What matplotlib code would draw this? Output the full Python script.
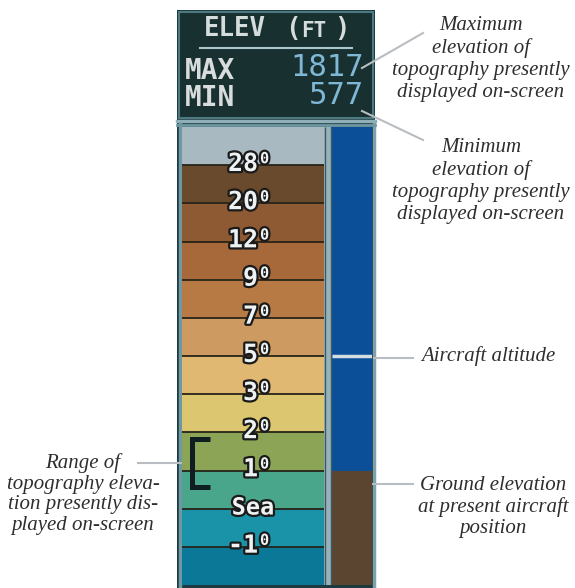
import matplotlib
matplotlib.use("Agg")
import matplotlib.pyplot as plt
import matplotlib.patheffects as pe
from matplotlib.patches import Rectangle
import numpy as np

# ---------------- data ----------------
band_colors_top_to_bottom = ["#a9b9c1", "#6a4a2d", "#8e5a33", "#a8693a", "#b77a45",
                             "#cd9b62", "#e0b872", "#dcc66f", "#8ba456", "#4aa68b",
                             "#1a92a8", "#0c7898"]
tick_main = ["28", "20", "12", "9", "7", "5", "3", "2", "1", "Sea", "-1"]
tick_sup = ["0", "0", "0", "0", "0", "0", "0", "0", "0", "", "0"]
tick_values = [28000, 20000, 12000, 9000, 7000, 5000, 3000, 2000, 1000, 0, -1000]
max_elev = 1817
min_elev = 577
aircraft_alt = 5000
ground_elev = 1000

n_bands = len(band_colors_top_to_bottom)
tick_pos = np.arange(len(tick_values), 0, -1)  # 11 .. 1 (top to bottom)


def to_pos(v):
    return np.interp(v, tick_values[::-1], tick_pos[::-1])


# ---------------- figure ----------------
fig = plt.figure(figsize=(5.75, 5.88), dpi=100)
fig.patch.set_facecolor("white")

ax0 = fig.add_axes([0, 0, 1, 1])
ax0.set_xlim(0, 575)
ax0.set_ylim(588, 0)
ax0.axis("off")

# panel
ax0.add_patch(Rectangle((177, 10), 198, 578, fc="#1c3a40", ec="none", zorder=1))
ax0.add_patch(Rectangle((179, 12), 194, 106, fc="#18302f", ec="#4d7a80", lw=1.5, zorder=2))
ax0.plot([177, 375], [120.5, 120.5], color="#8fb0b8", lw=2.5, zorder=3)
ax0.plot([179.5, 179.5], [124, 588], color="#6f98a2", lw=2.5, zorder=3)
ax0.plot([373.5, 373.5], [124, 588], color="#7fa2aa", lw=2.5, zorder=3)
ax0.plot([177, 375], [125, 125], color="#6f98a2", lw=2, zorder=3)

# header
hdr_font = "DejaVu Sans Mono"
ax0.text(204, 29, "ELEV", fontfamily=hdr_font, fontweight="bold", fontsize=18.5,
         color="#d5dcdc", ha="left", va="center", zorder=4)
ax0.text(285, 29, "(", fontfamily=hdr_font, fontweight="bold", fontsize=18.5,
         color="#d5dcdc", ha="left", va="center", zorder=4)
ax0.text(301, 31, "FT", fontfamily=hdr_font, fontweight="bold", fontsize=15,
         color="#d5dcdc", ha="left", va="center", zorder=4)
ax0.text(334, 29, ")", fontfamily=hdr_font, fontweight="bold", fontsize=18.5,
         color="#d5dcdc", ha="left", va="center", zorder=4)
ax0.plot([200, 352], [48, 48], color="#a9c6cc", lw=1.5, zorder=4)
ax0.text(185, 71, "MAX", fontfamily=hdr_font, fontweight="bold", fontsize=20,
         color="#d8dcdc", ha="left", va="center", zorder=4)
ax0.text(185, 98, "MIN", fontfamily=hdr_font, fontweight="bold", fontsize=20,
         color="#d8dcdc", ha="left", va="center", zorder=4)
ax0.text(364, 67, f"{max_elev}", fontfamily=hdr_font, fontsize=22,
         color="#7fb7d6", ha="right", va="center", zorder=4)
ax0.text(364, 95, f"{min_elev}", fontfamily=hdr_font, fontsize=22,
         color="#7fb7d6", ha="right", va="center", zorder=4)

# ---------------- scale axes ----------------
ax = fig.add_axes([182 / 575, (588 - 585) / 588, 190 / 575, 458 / 588])
ax.set_xlim(0, 190)
ax.set_ylim(0, n_bands)
ax.axis("off")

colors_bottom_up = band_colors_top_to_bottom[::-1]
ax.bar(0, 1, width=142, bottom=np.arange(n_bands), align="edge",
       color=colors_bottom_up, edgecolor="none")
ax.hlines(tick_pos, 0, 142, color="#262418", lw=1.3)

# separator
ax.bar(142, n_bands, width=7, bottom=0, align="edge", color="#98b2ba")
ax.vlines([142.5, 148.5], 0, n_bands, color="#3c5a62", lw=1)

# altitude column
gpos = to_pos(ground_elev)
apos = to_pos(aircraft_alt)
ax.bar(149, n_bands - gpos, width=41, bottom=gpos, align="edge", color="#0b4f98")
ax.bar(149, gpos, width=41, bottom=0, align="edge", color="#5b4430")
ax.hlines(apos, 150, 190, color="#d3dde2", lw=2.5)

# tick labels
stroke = [pe.withStroke(linewidth=3.2, foreground="#1a1a1a")]
for main, sup, p in zip(tick_main, tick_sup, tick_pos):
    if sup:
        ax.text(76, p + 0.03, main, fontfamily=hdr_font, fontweight="bold", fontsize=18,
                color="#eef2f2", ha="right", va="center", path_effects=stroke, zorder=5)
        ax.text(78, p + 0.17, sup, fontfamily=hdr_font, fontweight="bold", fontsize=11,
                color="#eef2f2", ha="left", va="center", path_effects=stroke, zorder=5)
    else:
        ax.text(71, p + 0.03, main, fontfamily=hdr_font, fontweight="bold", fontsize=17,
                color="#eef2f2", ha="center", va="center", path_effects=stroke, zorder=5)

# range bracket
pmax = to_pos(max_elev)
pmin = to_pos(min_elev)
ax.plot([28, 9.5, 9.5, 28], [pmax, pmax, pmin, pmin], color="#0f1e20", lw=3.6,
        solid_joinstyle="miter", solid_capstyle="butt", zorder=4)

# ---------------- annotations ----------------
lc = "#b9bdc1"
ann_font = dict(fontfamily="Liberation Serif", style="italic", fontsize=15,
                color="#2e2e2e")
ax0.plot([362, 423], [68, 33], color=lc, lw=1.5, zorder=6)
ax0.plot([362, 423], [111, 140], color=lc, lw=1.5, zorder=6)
ax0.plot([374, 413], [358, 358], color=lc, lw=1.5, zorder=6)
ax0.plot([365, 413], [484, 484], color=lc, lw=1.5, zorder=6)
ax0.plot([138, 187], [463, 463], color=lc, lw=1.5, zorder=6)

ax0.text(481, 59, "Maximum\nelevation of\ntopography presently\ndisplayed on-screen",
         ha="center", va="center", linespacing=1.2, **ann_font)
ax0.text(481, 181, "Minimum\nelevation of\ntopography presently\ndisplayed on-screen",
         ha="center", va="center", linespacing=1.2, **ann_font)
ax0.text(421, 356, "Aircraft altitude", ha="left", va="center", **ann_font)
ax0.text(493, 507, "Ground elevation\nat present aircraft\nposition",
         ha="center", va="center", linespacing=1.15, **ann_font)
ax0.text(83, 494, "Range of\ntopography eleva-\ntion presently dis-\nplayed on-screen",
         ha="center", va="center", linespacing=1.1, **ann_font)

fig.savefig("out.png", dpi=100)
